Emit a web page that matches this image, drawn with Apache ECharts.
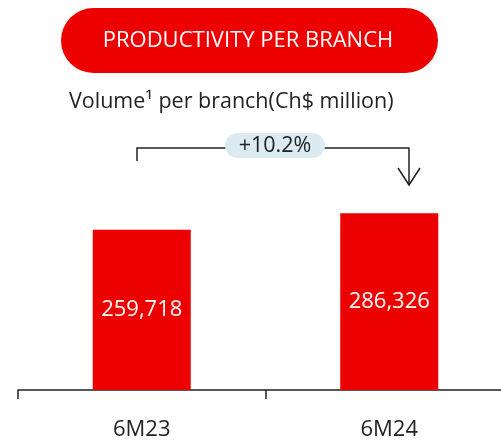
<!DOCTYPE html>
<html>
<head>
<meta charset="utf-8">
<style>
  html, body { margin: 0; padding: 0; background: #fff; }
  #chart { width: 501px; height: 440px; }
</style>
<script src="https://cdn.jsdelivr.net/npm/echarts@6/dist/echarts.min.js"></script>
</head>
<body>
<div id="chart"></div>
<script>
const categories = ['6M23', '6M24'];
const volumes = [259718, 286326];
const titleText = 'PRODUCTIVITY PER BRANCH';
const subtitleText = 'Volume¹ per branch(Ch$ million)';
const growthLabel = '+10.2%';

const RED = '#EC0000';
const FONT = '"Open Sans", "Noto Sans", sans-serif';

const chart = echarts.init(document.getElementById('chart'), null, { renderer: 'canvas' });

chart.setOption({
  animation: false,
  backgroundColor: '#fff',
  grid: { left: 18, top: 100, width: 495, bottom: 50, containLabel: false, outerBoundsMode: 'none' },
  xAxis: {
    type: 'category',
    data: categories,
    axisLine: { show: true, lineStyle: { color: '#222', width: 1.5 } },
    axisTick: { show: true, length: 9, lineStyle: { color: '#222', width: 1.5 } },
    axisLabel: { color: '#222', fontSize: 22, fontFamily: FONT, margin: 29 }
  },
  yAxis: {
    type: 'value',
    min: 0,
    max: 470000,
    show: false,
    splitLine: { show: false }
  },
  series: [{
    type: 'bar',
    data: volumes,
    barWidth: '39.6%',
    itemStyle: { color: RED },
    label: {
      show: true,
      position: 'inside',
      color: '#fff',
      fontSize: 22,
      fontFamily: FONT,
      formatter: p => p.value.toLocaleString('en-US')
    }
  }],
  graphic: [
    {
      type: 'rect',
      shape: { x: 61, y: 8, width: 377, height: 65, r: 32.5 },
      style: { fill: RED }
    },
    {
      type: 'text',
      x: 248, y: 41,
      style: {
        text: titleText, fill: '#fff', font: '22px ' + FONT,
        align: 'center', verticalAlign: 'middle'
      }
    },
    {
      type: 'text',
      x: 69, y: 102,
      style: {
        text: subtitleText, fill: '#222', font: '21.5px ' + FONT,
        align: 'left', verticalAlign: 'middle'
      }
    },
    {
      type: 'polyline',
      shape: { points: [[137, 161], [137, 148], [409, 148], [409, 185]] },
      style: { stroke: '#222', lineWidth: 1.5, fill: null }
    },
    {
      type: 'polyline',
      shape: { points: [[398, 168], [409, 185], [420, 168]] },
      style: { stroke: '#222', lineWidth: 1.5, fill: null }
    },
    {
      type: 'rect',
      shape: { x: 225, y: 133, width: 100, height: 25, r: 12.5 },
      style: { fill: '#DCEBF1' }
    },
    {
      type: 'text',
      x: 275, y: 146,
      style: {
        text: growthLabel, fill: '#222', font: '21.5px ' + FONT,
        align: 'center', verticalAlign: 'middle'
      }
    }
  ]
});
</script>
</body>
</html>
